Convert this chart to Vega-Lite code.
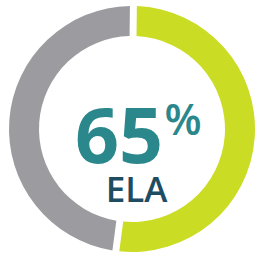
{
  "$schema": "https://vega.github.io/schema/vega-lite/v6.json",
  "width": 250,
  "height": 244,
  "padding": {"left": 7, "top": 7, "right": 0, "bottom": 7},
  "autosize": "none",
  "background": "white",
  "view": {"stroke": null},
  "layer": [
    {
      "data": {"values": [
        {"segment": "ELA", "share": 186.9, "rank": 1},
        {"segment": "Other", "share": 173.1, "rank": 2}
      ]},
      "mark": {"type": "arc", "outerRadius": 123, "innerRadius": 93, "padAngle": 0.045},
      "encoding": {
        "theta": {"field": "share", "type": "quantitative", "stack": true, "scale": {"range": [0.0113, 6.2945]}},
        "order": {"field": "rank", "type": "ordinal"},
        "color": {"field": "segment", "type": "nominal", "legend": null,
          "scale": {"domain": ["ELA", "Other"], "range": ["#cbdc24", "#9c9ba0"]}}
      }
    },
    {
      "data": {"values": [{"label": "65"}]},
      "mark": {"type": "text", "font": "Open Sans", "fontWeight": "bold", "fontSize": 77, "color": "#2a878b", "align": "center", "baseline": "alphabetic", "dx": -13, "dy": 34},
      "encoding": {"text": {"field": "label"}}
    },
    {
      "data": {"values": [{"label": "%"}]},
      "mark": {"type": "text", "font": "Open Sans", "fontWeight": 600, "fontSize": 43, "color": "#2a878b", "align": "center", "baseline": "alphabetic", "dx": 51, "dy": 6},
      "encoding": {"text": {"field": "label"}}
    },
    {
      "data": {"values": [{"label": "ELA"}]},
      "mark": {"type": "text", "font": "Open Sans", "fontWeight": 600, "fontSize": 35, "color": "#1e4c62", "align": "center", "baseline": "alphabetic", "dx": 4.5, "dy": 73},
      "encoding": {"text": {"field": "label"}}
    }
  ]
}
